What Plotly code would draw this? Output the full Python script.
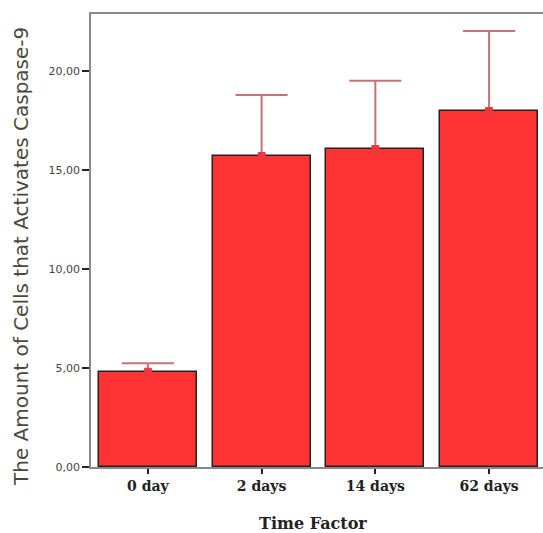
import plotly.graph_objects as go

categories = ["0 day", "2 days", "14 days", "62 days"]
means = [4.81, 15.71, 16.06, 17.98]
errors_up = [0.43, 3.08, 3.45, 4.04]
y_tickvals = [0, 5, 10, 15, 20]
y_ticktext = ["0,00", "5,00", "10,00", "15,00", "20,00"]

W, H = 543, 533
L, R, T, B = 91, 0, 14, 66
pw = W - L - R
ph = H - T - B
cap_half = 0.229

xs = list(range(len(categories)))

# upper error bars (stem + cap) built from the data
ex, ey = [], []
for i, m, e in zip(xs, means, errors_up):
    ex += [i, i, None, i - cap_half, i + cap_half, None]
    ey += [m, m + e, None, m + e, m + e, None]

fig = go.Figure()
fig.add_trace(go.Bar(
    x=xs, y=means, width=0.862,
    marker=dict(color="#FF3333", line=dict(color="#222222", width=1.5)),
    hoverinfo="skip",
))
fig.add_trace(go.Scatter(
    x=ex, y=ey, mode="lines",
    line=dict(color="#C8707A", width=2),
    hoverinfo="skip",
))
fig.add_trace(go.Scatter(
    x=xs, y=means, mode="markers",
    marker=dict(symbol="square", size=7, color="#FF3333",
                line=dict(color="#D04050", width=1)),
    hoverinfo="skip",
))

fig.update_layout(
    width=W, height=H,
    margin=dict(l=L, r=R, t=T, b=B),
    paper_bgcolor="white", plot_bgcolor="white",
    showlegend=False,
    bargap=0,
    xaxis=dict(
        range=[-0.5, 3.474],
        tickvals=xs, ticktext=categories,
        tickfont=dict(family="DejaVu Serif", size=14, color="#222", weight="bold"),
        ticks="outside", ticklen=5, tickwidth=2, tickcolor="#222",
        showline=True, linecolor="#888", linewidth=1.5, mirror=True,
        showgrid=False, zeroline=False, automargin=False,
    ),
    yaxis=dict(
        range=[0, 22.88],
        tickvals=y_tickvals, ticktext=y_ticktext,
        tickfont=dict(family="DejaVu Sans", size=11, color="#444"),
        ticks="outside", ticklen=7, tickwidth=2, tickcolor="#222",
        showline=True, linecolor="#888", linewidth=1.5,
        showgrid=False, zeroline=False, automargin=False,
    ),
    annotations=[
        dict(text="The Amount of Cells that Activates Caspase-9",
             xref="paper", yref="paper", x=(21 - L) / pw, y=(H - B - 257) / ph,
             xanchor="center", yanchor="middle", textangle=-90, showarrow=False,
             font=dict(family="DejaVu Sans", size=20, color="#4a4a3a")),
        dict(text="<b>Time Factor</b>",
             xref="paper", yref="paper", x=(313 - L) / pw, y=(H - B - 523) / ph,
             xanchor="center", yanchor="middle", showarrow=False,
             font=dict(family="DejaVu Serif", size=16, color="#222")),
    ],
)

fig.write_html("out.html", config={"displayModeBar": False},
               post_script="document.body.style.margin='0px';document.body.style.overflow='hidden';")
